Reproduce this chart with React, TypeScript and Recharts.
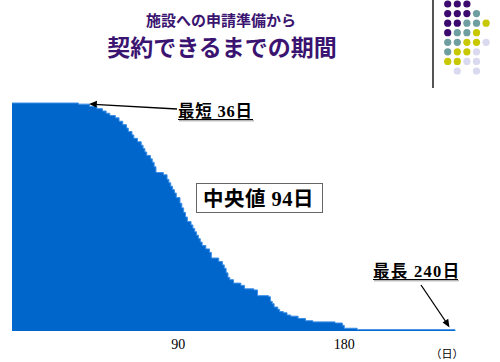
import { AreaChart, Area, XAxis, YAxis } from 'recharts';

// days since start of preparation
const days = [
  0, 36, 42, 46, 49, 51, 53, 56, 58, 60, 62, 63, 65, 66, 68, 70, 71, 72, 73, 75,
  76, 77, 78, 82, 84, 85, 86, 87, 88, 89, 91, 92, 93, 94, 95, 97, 98, 99, 100, 101,
  102, 103, 105, 107, 108, 112, 114, 115, 116, 117, 118, 120, 124, 126, 131, 133, 139, 140, 141, 142,
  144, 145, 147, 149, 151, 155, 159, 163, 175, 179, 180, 187, 240,
];
// share (%) not yet contracted
const remaining = [
  100, 99.5, 98.5, 97.5, 96.5, 95.5, 94.5, 93.5, 92, 90.5, 89, 87.5, 86, 84.5, 83, 81.5, 80, 78.5, 77, 75.5,
  74, 72, 69.5, 68.5, 66.5, 65, 63.5, 62, 60.5, 58.5, 56, 54, 52, 50, 48, 46.5, 45, 43.5, 42, 40.5,
  39, 37.5, 36, 34.5, 32, 30.5, 29, 27.5, 25.5, 23.5, 22.5, 21, 20, 18.5, 18, 15.5, 15, 13, 12, 10.5,
  9.5, 8.5, 8, 7, 6.5, 5.5, 4.5, 4, 3.5, 2.5, 1.2, 0.6, 0,
];
const xTicks = [90, 180];

const data = days.map((d, i) => ({ day: d, value: remaining[i] }));

// decorative dot grid, P=purple T=teal Y=yellow L=lavender
const dotRows = ['PPP..', 'PPPT.', 'PPTTY', 'PTTY.', 'TTYYL', 'TYYL.', 'YYLL.', '.L.L.'];
const dotColors: Record<string, string> = {
  P: '#3c0a6e',
  T: '#6e9e9f',
  Y: '#c8c800',
  L: '#d9d9ef',
};

const serifJp = "'Liberation Serif', 'Noto Sans CJK JP', serif";
const sansJp = "'Noto Sans CJK JP', sans-serif";

export default function App() {
  return (
    <div style={{ position: 'absolute', left: 0, top: 0, width: 500, height: 362, background: '#fff' }}>
      <AreaChart
        width={500}
        height={362}
        data={data}
        margin={{ top: 103, right: 45, bottom: 11, left: 12 }}
      >
        <XAxis
          dataKey="day"
          type="number"
          domain={[0, 240]}
          ticks={xTicks}
          axisLine={false}
          tickLine={false}
          height={20}
          tick={{ fontSize: 14, fill: '#000', fontFamily: 'Liberation Serif' }}
        />
        <YAxis hide domain={[0, 100]} />
        <Area
          type="stepAfter"
          dataKey="value"
          stroke="#3a8ee8"
          strokeWidth={1}
          fill="#0066cc"
          fillOpacity={1}
          isAnimationActive={false}
        />
      </AreaChart>
      <svg
        width={500}
        height={362}
        style={{ position: 'absolute', left: 0, top: 0, pointerEvents: 'none' }}
      >
        <text x={221} y={25.5} textAnchor="middle" fontSize={15} fontWeight="bold" fill="#3a1470" fontFamily={sansJp}>
          施設への申請準備から
        </text>
        <text x={222} y={56} textAnchor="middle" fontSize={23} fontWeight="bold" fill="#3a1470" fontFamily={sansJp}>
          契約できるまでの期間
        </text>

        <line x1={433} y1={0} x2={433} y2={88} stroke="#555" strokeWidth={2} />
        {dotRows.map((row, r) =>
          row.split('').map((c, k) =>
            c === '.' ? null : (
              <circle key={`${r}-${k}`} cx={447.7 + k * 9.6} cy={4 + r * 9.57} r={3.6} fill={dotColors[c]} />
            )
          )
        )}

        {/* shortest */}
        <line x1={177} y1={109} x2={94} y2={104.3} stroke="#000" strokeWidth={1.3} />
        <polygon points="89,104 97,100.8 96.6,107.4" fill="#000" />
        <text x={178} y={117} fontSize={16.5} fontWeight="bold" fill="#000" fontFamily={serifJp} letterSpacing={0.8}>
          最短 36日
        </text>
        <line x1={178} y1={119.5} x2={253} y2={119.5} stroke="#000" strokeWidth={1} />
        <line x1={179} y1={120.8} x2={254} y2={120.8} stroke="#999" strokeWidth={1} />

        {/* median */}
        <rect x={196.5} y={183.5} width={126} height={29} fill="#fff" stroke="#666" strokeWidth={1} />
        <text x={203} y={206} fontSize={20.5} fontWeight="bold" fill="#000" fontFamily={serifJp} letterSpacing={0.5}>
          中央値 94日
        </text>

        {/* longest */}
        <text x={373} y={277} fontSize={16.5} fontWeight="bold" fill="#000" fontFamily={serifJp} letterSpacing={1.3}>
          最長 240日
        </text>
        <line x1={373} y1={279.5} x2={458} y2={279.5} stroke="#000" strokeWidth={1} />
        <line x1={374} y1={280.8} x2={459} y2={280.8} stroke="#999" strokeWidth={1} />
        <line x1={421} y1={285} x2={446} y2={322} stroke="#000" strokeWidth={1.3} />
        <polygon points="449.5,327.5 442.6,322.4 448.2,318.8" fill="#000" />

        <text x={447} y={358} textAnchor="middle" fontSize={11} fill="#000" fontFamily={serifJp}>
          （日）
        </text>
      </svg>
    </div>
  );
}
